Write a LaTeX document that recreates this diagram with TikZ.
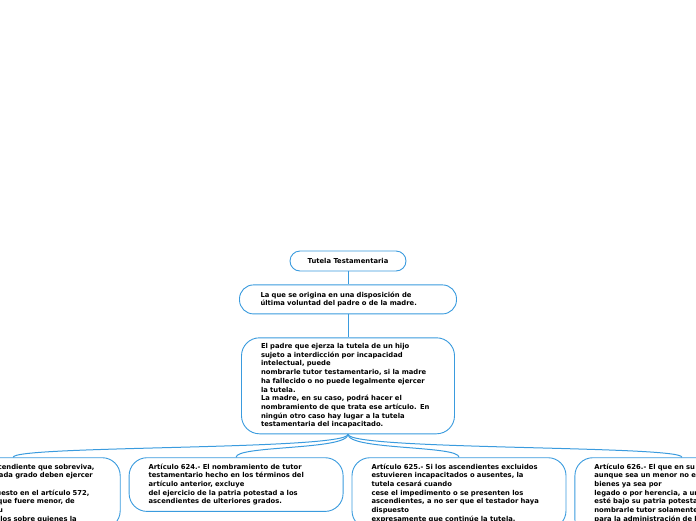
\documentclass[tikz,border=0pt]{standalone}
\usepackage{fontspec}
\setmainfont{DejaVu Sans}
\usepackage{tikz}
\usetikzlibrary{positioning}
\definecolor{mapblue}{RGB}{58,155,222}

\begin{document}
\begin{tikzpicture}[x=1pt,y=-1pt,
  box/.style={draw=mapblue,line width=0.9pt,fill=white,align=left,
    font=\bfseries\fontsize{6.8}{8.7}\selectfont},
  titlebox/.style={box,align=center,rounded corners=10pt,minimum width=116pt,minimum height=20pt,inner sep=2pt},
  midbox/.style={box,rounded corners=14pt,text width=175pt,inner xsep=21pt,minimum height=29pt},
  bigbox/.style={box,rounded corners=18pt,text width=174pt,inner xsep=19.5pt,minimum height=96pt,inner ysep=3pt},
  leafbox/.style={box,rounded corners=18pt,text width=175pt,inner xsep=19.5pt,inner ysep=6pt},
  link/.style={draw=mapblue,line width=1pt}]
  \clip (0,0) rectangle (696,520);
  \node[titlebox] (tit) at (348,261) {Tutela Testamentaria};
  \node[midbox,below=13pt of tit] (orig) {La que se origina en una disposición de\\
    última voluntad del padre o de la madre.};
  \node[bigbox,below=23pt of orig] (padre) {El padre que ejerza la tutela de un hijo\\
    sujeto a interdicción por incapacidad\\
    intelectual, puede\\
    nombrarle tutor testamentario, si la madre\\
    ha fallecido o no puede legalmente ejercer\\
    la tutela.\\
    La madre, en su caso, podrá hacer el\\
    nombramiento de que trata ese artículo. En\\
    ningún otro caso hay lugar a la tutela\\
    testamentaria del incapacitado.};
  \node[leafbox,below=23pt of padre,xshift=111pt] (art625) {Artículo 625.- Si los ascendientes excluidos\\
    estuvieren incapacitados o ausentes, la\\
    tutela cesará cuando\\
    cese el impedimento o se presenten los\\
    ascendientes, a no ser que el testador haya\\
    dispuesto\\
    expresamente que continúe la tutela.};
  \node[leafbox,left=8pt of art625.north west,anchor=north east] (art624) {Artículo 624.- El nombramiento de tutor\\
    testamentario hecho en los términos del\\
    artículo anterior, excluye\\
    del ejercicio de la patria potestad a los\\
    ascendientes de ulteriores grados.};
  \node[leafbox,left=8pt of art624.north west,anchor=north east] (art623) {Artículo 623.- El ascendiente que sobreviva,\\
    de los dos que en cada grado deben ejercer\\
    la patria potestad,\\
    conforme a lo dispuesto en el artículo 572,\\
    tiene derecho, aunque fuere menor, de\\
    nombrar tutor en su\\
    testamento a aquéllos sobre quienes la};
  \node[leafbox,right=8pt of art625.north east,anchor=north west] (art626) {Artículo 626.- El que en su testamento,\\
    aunque sea un menor no emancipado, deje\\
    bienes ya sea por\\
    legado o por herencia, a un incapaz que no\\
    esté bajo su patria potestad, ni bajo la de\\
    nombrarle tutor solamente\\
    para la administración de los bienes que le deje.};
  \draw[link] (tit) -- (orig);
  \draw[link] (orig) -- (padre);
  \foreach \leaf in {art623,art624,art625,art626}
    \draw[link] (padre.south) .. controls +(0,16) and +(0,-12) .. (\leaf.north);
\end{tikzpicture}
\end{document}
